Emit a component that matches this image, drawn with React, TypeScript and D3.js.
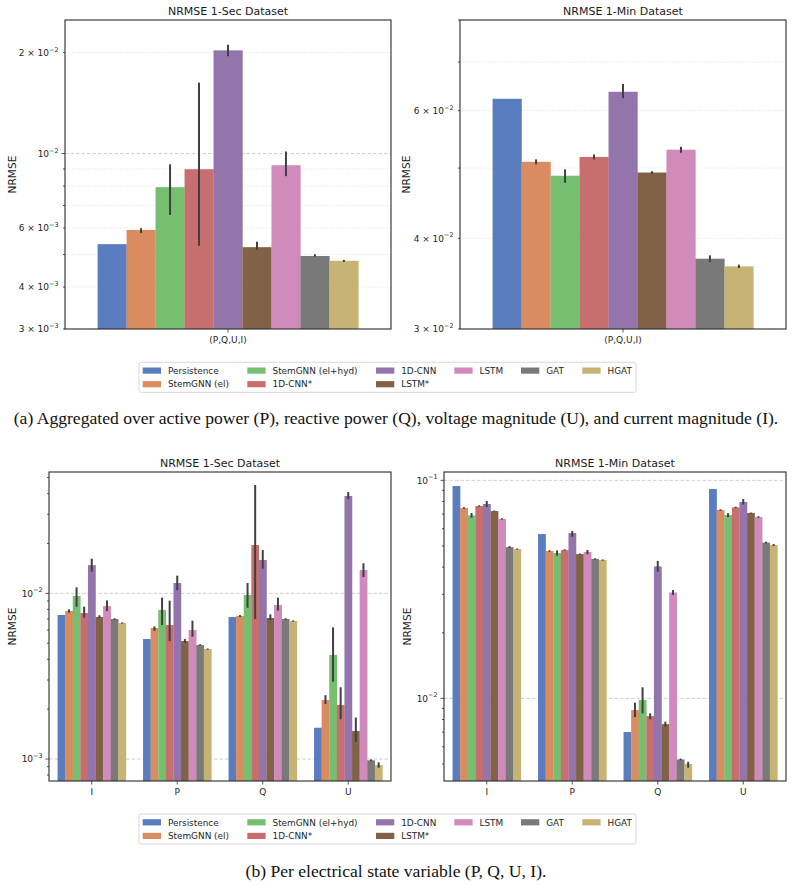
import React from 'react';
import * as d3 from 'd3';

// ---------------- DATA ----------------
const MODELS = ['Persistence', 'StemGNN (el)', 'StemGNN (el+hyd)', '1D-CNN*', '1D-CNN', 'LSTM*', 'LSTM', 'GAT', 'HGAT'];
const COLORS = ['#597dbf', '#da8b5f', '#76bf71', '#c76e6e', '#9475ab', '#826246', '#d08abb', '#797979', '#c7b475'];

const AGG_CATS = ['(P,Q,U,I)'];
const VAR_CATS = ['I', 'P', 'Q', 'U'];

// (a) aggregated, one value per model
const agg1SecMean = [5.37e-3, 5.92e-3, 7.94e-3, 8.98e-3, 2.03e-2, 5.26e-3, 9.23e-3, 4.95e-3, 4.79e-3];
const agg1SecLo = [null, 5.80e-3, 6.56e-3, 5.31e-3, 1.95e-2, 5.17e-3, 8.56e-3, 4.93e-3, 4.75e-3];
const agg1SecHi = [null, 5.99e-3, 9.29e-3, 1.626e-2, 2.11e-2, 5.46e-3, 1.014e-2, 5.01e-3, 4.82e-3];

const agg1MinMean = [6.23e-2, 5.10e-2, 4.88e-2, 5.18e-2, 6.37e-2, 4.93e-2, 5.30e-2, 3.75e-2, 3.66e-2];
const agg1MinLo = [null, 5.06e-2, 4.77e-2, 5.14e-2, 6.24e-2, 4.91e-2, 5.25e-2, 3.71e-2, 3.64e-2];
const agg1MinHi = [null, 5.14e-2, 4.98e-2, 5.22e-2, 6.53e-2, 4.95e-2, 5.35e-2, 3.79e-2, 3.68e-2];

// (b) per variable: rows = models, columns = I, P, Q, U
const var1SecMean = [
  [7.40e-3, 5.30e-3, 7.20e-3, 1.545e-3],
  [7.82e-3, 6.18e-3, 7.30e-3, 2.27e-3],
  [9.64e-3, 7.93e-3, 9.77e-3, 4.25e-3],
  [7.61e-3, 6.44e-3, 1.958e-2, 2.12e-3],
  [1.48e-2, 1.154e-2, 1.588e-2, 3.87e-2],
  [7.20e-3, 5.15e-3, 7.10e-3, 1.476e-3],
  [8.38e-3, 6.01e-3, 8.50e-3, 1.383e-2],
  [7.00e-3, 4.88e-3, 7.00e-3, 9.82e-4],
  [6.62e-3, 4.61e-3, 6.81e-3, 9.20e-4],
];
const var1SecLo = [
  [null, null, null, null],
  [7.64e-3, 5.95e-3, 7.20e-3, 2.15e-3],
  [8.31e-3, 6.44e-3, 8.19e-3, 2.93e-3],
  [7.13e-3, 5.15e-3, 7.00e-3, 1.74e-3],
  [1.35e-2, 1.047e-2, 1.41e-2, 3.70e-2],
  [7.07e-3, 5.03e-3, 6.90e-3, 1.27e-3],
  [7.82e-3, 5.48e-3, 7.86e-3, 1.255e-2],
  [6.93e-3, 4.83e-3, 6.93e-3, 9.70e-4],
  [6.56e-3, 4.57e-3, 6.75e-3, 8.86e-4],
];
const var1SecHi = [
  [null, null, null, null],
  [8.00e-3, 6.32e-3, 7.40e-3, 2.43e-3],
  [1.087e-2, 9.42e-3, 1.154e-2, 6.23e-3],
  [8.31e-3, 9.03e-3, 4.51e-2, 2.71e-3],
  [1.62e-2, 1.278e-2, 1.826e-2, 4.09e-2],
  [7.37e-3, 5.30e-3, 7.47e-3, 1.78e-3],
  [9.07e-3, 6.84e-3, 9.42e-3, 1.52e-2],
  [7.07e-3, 4.93e-3, 7.07e-3, 9.95e-4],
  [6.68e-3, 4.65e-3, 6.87e-3, 9.55e-4],
];

const var1MinMean = [
  [9.42e-2, 5.67e-2, 7.01e-3, 9.13e-2],
  [7.47e-2, 4.74e-2, 8.84e-3, 7.31e-2],
  [6.91e-2, 4.64e-2, 9.83e-3, 6.93e-2],
  [7.63e-2, 4.79e-2, 8.30e-3, 7.52e-2],
  [7.79e-2, 5.73e-2, 4.03e-2, 7.96e-2],
  [7.23e-2, 4.59e-2, 7.62e-3, 7.08e-2],
  [6.65e-2, 4.69e-2, 3.06e-2, 6.79e-2],
  [4.94e-2, 4.36e-2, 5.25e-3, 5.18e-2],
  [4.84e-2, 4.31e-2, 5.00e-3, 5.05e-2],
];
const var1MinLo = [
  [null, null, null, null],
  [7.41e-2, 4.70e-2, 8.21e-3, 7.25e-2],
  [6.74e-2, 4.51e-2, 8.54e-3, 6.79e-2],
  [7.58e-2, 4.76e-2, 8.02e-3, 7.47e-2],
  [7.54e-2, 5.51e-2, 3.81e-2, 7.74e-2],
  [7.19e-2, 4.56e-2, 7.42e-3, 7.04e-2],
  [6.60e-2, 4.58e-2, 2.98e-2, 6.74e-2],
  [4.89e-2, 4.33e-2, 5.20e-3, 5.13e-2],
  [4.81e-2, 4.28e-2, 4.81e-3, 5.00e-2],
];
const var1MinHi = [
  [null, null, null, null],
  [7.53e-2, 4.78e-2, 9.56e-3, 7.37e-2],
  [7.08e-2, 4.77e-2, 1.124e-2, 7.07e-2],
  [7.68e-2, 4.83e-2, 8.54e-3, 7.57e-2],
  [8.04e-2, 5.85e-2, 4.27e-2, 8.21e-2],
  [7.27e-2, 4.62e-2, 7.82e-3, 7.12e-2],
  [6.70e-2, 4.79e-2, 3.14e-2, 6.85e-2],
  [4.99e-2, 4.39e-2, 5.30e-3, 5.23e-2],
  [4.87e-2, 4.34e-2, 5.12e-3, 5.10e-2],
];

// tick labelling (mantissas shown as text on each panel's log axis)
const AGG_SEC_LABELED = [1, 2, 3, 4, 6];
const AGG_MIN_LABELED = [3, 4, 6];
const VAR_LABELED = [1];

// ---------------- LAYOUT ----------------
const FONT = 'DejaVu Sans, sans-serif';
const SERIF = 'Liberation Serif, Times New Roman, serif';
const LEGEND_COL_X = [142.7, 247.3, 376, 454.3, 521, 582.3];

type PanelProps = {
  x0: number; x1: number; y0: number; y1: number;
  domain: [number, number];
  cats: string[];
  mean: (number | null)[][];
  lo: (number | null)[][];
  hi: (number | null)[][];
  title: string;
  labeled: number[];
  minorGrid: boolean;
  ylabelX: number;
};

function mantissa(v: number) {
  const e = Math.floor(Math.log10(v) + 1e-9);
  const m = Math.round(v / Math.pow(10, e));
  return { m, e };
}

function Panel(p: PanelProps) {
  const y = d3.scaleLog().domain(p.domain).range([p.y1, p.y0]);
  const xCat = d3.scaleBand<string>().domain(p.cats).range([p.x0, p.x1]).paddingInner(0.2).paddingOuter(0.1);
  const xHue = d3.scaleBand<string>().domain(MODELS).range([0, xCat.bandwidth()]).padding(0);
  const ticks = y.ticks().filter((t) => t >= p.domain[0] * 0.999 && t <= p.domain[1] * 1.001);
  const midY = (p.y0 + p.y1) / 2;
  return (
    <g>
      {ticks.map((t, i) => {
        const { m } = mantissa(t);
        const major = m === 1;
        if (!major && !p.minorGrid) return null;
        return (
          <line key={'g' + i} x1={p.x0} x2={p.x1} y1={y(t)} y2={y(t)}
            stroke={major ? '#c8c8c8' : '#e2e2e2'} strokeWidth={major ? 0.9 : 0.8}
            strokeDasharray={major ? '3.5,2' : '1,1.3'} />
        );
      })}
      {MODELS.map((model, mi) =>
        p.cats.map((c, ci) => {
          const v = p.mean[mi][ci];
          if (v == null) return null;
          const bx = (xCat(c) as number) + (xHue(model) as number);
          const yt = y(v);
          return (
            <rect key={model + c} x={bx} y={yt} width={xHue.bandwidth() + 0.2}
              height={p.y1 - yt} fill={COLORS[mi]} />
          );
        })
      )}
      {MODELS.map((model, mi) =>
        p.cats.map((c, ci) => {
          const l = p.lo[mi][ci];
          const h = p.hi[mi][ci];
          if (l == null || h == null) return null;
          const cx = (xCat(c) as number) + (xHue(model) as number) + xHue.bandwidth() / 2;
          return (
            <line key={'e' + model + c} x1={cx} x2={cx} y1={y(l)} y2={y(h)}
              stroke="#404040" strokeWidth={2} />
          );
        })
      )}
      <rect x={p.x0} y={p.y0} width={p.x1 - p.x0} height={p.y1 - p.y0}
        fill="none" stroke="#2b2b2b" strokeWidth={1.1} />
      {ticks.map((t, i) => {
        const { m, e } = mantissa(t);
        const len = m === 1 ? 3.5 : 2;
        const show = p.labeled.includes(m);
        const ty = y(t);
        return (
          <g key={'t' + i}>
            <line x1={p.x0 - len} x2={p.x0} y1={ty} y2={ty} stroke="#2b2b2b" strokeWidth={0.8} />
            {show && (
              <text x={p.x0 - 6.5} y={ty + 3.3} textAnchor="end" fontFamily={FONT} fontSize={9} fill="#262626">
                {m === 1 ? '10' : `${m} × 10`}
                <tspan fontSize={6.4} dy={-4.2}>{'\u2212' + Math.abs(e)}</tspan>
              </text>
            )}
          </g>
        );
      })}
      {p.cats.map((c) => {
        const cx = (xCat(c) as number) + xCat.bandwidth() / 2;
        return (
          <g key={'x' + c}>
            <line x1={cx} x2={cx} y1={p.y1} y2={p.y1 + 3.5} stroke="#2b2b2b" strokeWidth={0.8} />
            <text x={cx} y={p.y1 + 14} textAnchor="middle" fontFamily={FONT} fontSize={9} fill="#262626">{c}</text>
          </g>
        );
      })}
      <text x={(p.x0 + p.x1) / 2} y={p.y0 - 5.5} textAnchor="middle" fontFamily={FONT} fontSize={11} fill="#1a1a1a">
        {p.title}
      </text>
      <text transform={`translate(${p.ylabelX},${midY}) rotate(-90)`}
        textAnchor="middle" dy="0.36em" fontFamily={FONT} fontSize={10.6} fill="#1a1a1a">NRMSE</text>
    </g>
  );
}

function Legend({ y }: { y: number }) {
  return (
    <g>
      <rect x={139} y={y} width={497} height={30} rx={2} fill="white" stroke="#d4d4d4" strokeWidth={0.9} />
      {MODELS.map((m, i) => {
        const col = i < 6 ? Math.floor(i / 2) : i - 3;
        const row = i < 6 ? i % 2 : 0;
        const px = LEGEND_COL_X[col];
        const cy = y + 8.3 + row * 13.6;
        return (
          <g key={m}>
            <rect x={px} y={cy - 3.1} width={18.3} height={6.2} fill={COLORS[i]} />
            <text x={px + 25.2} y={cy + 3.2} fontFamily={FONT} fontSize={8.9} fill="#262626">{m}</text>
          </g>
        );
      })}
    </g>
  );
}

const wrap = (a: (number | null)[]) => a.map((v) => [v]);

export default function App() {
  return (
    <svg width={792} height={885} style={{ position: 'absolute', left: 0, top: 0, background: 'white' }}>
      <rect x={0} y={0} width={792} height={885} fill="white" />
      <Panel x0={65} x1={391} y0={20} y1={329} domain={[3e-3, 2.5e-2]} cats={AGG_CATS}
        mean={wrap(agg1SecMean)} lo={wrap(agg1SecLo)} hi={wrap(agg1SecHi)}
        title="NRMSE 1-Sec Dataset" labeled={AGG_SEC_LABELED} minorGrid={true} ylabelX={12} />
      <Panel x0={460} x1={786} y0={20} y1={329} domain={[3e-2, 8e-2]} cats={AGG_CATS}
        mean={wrap(agg1MinMean)} lo={wrap(agg1MinLo)} hi={wrap(agg1MinHi)}
        title="NRMSE 1-Min Dataset" labeled={AGG_MIN_LABELED} minorGrid={true} ylabelX={406} />
      <Legend y={362.3} />
      <text x={396} y={423.5} textAnchor="middle" fontFamily={SERIF} fontSize={17.6} fill="#111">
        (a) Aggregated over active power (P), reactive power (Q), voltage magnitude (U), and current magnitude (I).
      </text>
      <Panel x0={49} x1={391} y0={472} y1={781} domain={[7.37e-4, 5.4e-2]} cats={VAR_CATS}
        mean={var1SecMean} lo={var1SecLo} hi={var1SecHi}
        title="NRMSE 1-Sec Dataset" labeled={VAR_LABELED} minorGrid={false} ylabelX={12} />
      <Panel x0={444} x1={786} y0={472} y1={781} domain={[4.18e-3, 1.092e-1]} cats={VAR_CATS}
        mean={var1MinMean} lo={var1MinLo} hi={var1MinHi}
        title="NRMSE 1-Min Dataset" labeled={VAR_LABELED} minorGrid={false} ylabelX={407} />
      <Legend y={814} />
      <text x={396} y={876.5} textAnchor="middle" fontFamily={SERIF} fontSize={17.6} fill="#111">
        (b) Per electrical state variable (P, Q, U, I).
      </text>
    </svg>
  );
}
